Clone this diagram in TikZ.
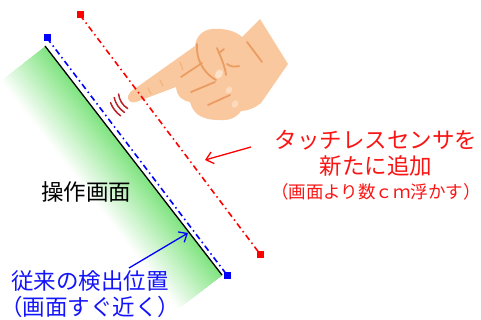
\documentclass[tikz,border=0pt]{standalone}
\usepackage{fontspec}
\newfontfamily\jp{Noto Sans CJK JP}
\usetikzlibrary{arrows.meta}
\definecolor{skin}{RGB}{250,200,158}
\definecolor{skinline}{RGB}{234,156,98}
\definecolor{skinlight}{RGB}{253,226,202}
\definecolor{panelgreen}{RGB}{128,228,128}
\definecolor{wave}{RGB}{185,35,40}
\definecolor{txtred}{RGB}{250,20,20}
\definecolor{txtblue}{RGB}{20,20,250}

\begin{document}
\begin{tikzpicture}[x=1pt,y=-1pt,
  sensorline/.style={line width=1.6pt, dash pattern=on 6pt off 3.5pt on 1.5pt off 3.5pt},
  endmark/.style={minimum size=7pt, inner sep=0pt, outer sep=0pt, fill},
  callout/.style={line width=1.3pt, -{Straight Barb[length=7pt,width=12pt,line width=1.3pt]}},
  handline/.style={skinline, line width=1.8pt, line cap=round},
  bigjp/.style={font=\jp\fontsize{22.5}{26}\selectfont, inner sep=0pt, align=center},
  smalljp/.style={font=\jp\fontsize{17.5}{20}\selectfont, inner sep=0pt, align=center}]
\useasboundingbox (0,0) rectangle (481,320);

% screen surface: green band fading away from the panel edge
\def\bandw{56}
\foreach \i in {30,29,...,1}{
  \pgfmathsetmacro\off{\bandw*\i/30}
  \pgfmathsetmacro\mix{100*(1-(\i-0.5)/30)}
  \fill[panelgreen!\mix!white] (45,47) -- (222,275)
    -- ({222-0.790*\off},{275+0.613*\off})
    -- ({45-0.790*\off},{47+0.613*\off}) -- cycle;
}

% panel edge
\coordinate (sTop) at (45,46);
\coordinate (sBot) at (222,275);
\draw[line width=1.3pt] (sTop) -- (sBot);

% conventional detection plane
\node[endmark, fill=blue] (bTop) at (47,38) {};
\node[endmark, fill=blue] (bBot) at (227,275) {};
\draw[sensorline, blue] (bTop.center) -- (bBot.center);

% hand
\fill[skin] (133,90)
  -- (195,46)
  .. controls (196,37) and (202,30) .. (212,29)
  .. controls (224,28) and (236,31) .. (242,37)
  -- (260,19)
  -- (288,64)
  -- (261,103)
  .. controls (255,108) and (247,111) .. (241,111)
  .. controls (236,119) and (226,121) .. (218,120)
  .. controls (210,120) and (201,118) .. (196,113)
  .. controls (193,110) and (191,106) .. (190,102)
  .. controls (183,101) and (177,97) .. (176,87)
  -- (136,102)
  .. controls (131,104) and (127,100) .. (128,96)
  .. controls (129,93) and (131,91) .. (133,90) -- cycle;
\fill[skinlight, rotate around={-35:(219,74)}] (219,74) ellipse [x radius=3.5, y radius=5];
\fill[skinlight!70!skin, rotate around={-30:(229,90)}] (229,90) ellipse [x radius=3, y radius=4];
\fill[skinlight!70!skin, rotate around={-30:(235,104)}] (235,104) ellipse [x radius=3, y radius=4];
\draw[handline] (181,77) -- (202,63);
\draw[handline] (191,92) -- (215,82);
\draw[handline] (208,105) -- (230,95);
\draw[handline] (197,44) .. controls (196,58) and (202,72) .. (216,80);
\draw[handline] (217,48) .. controls (221,58) and (225,66) .. (226,75);
\draw[handline] (219,53) -- (224,49);
\draw[handline] (227,64) .. controls (231,67) and (235,67) .. (239,66);
\draw[handline] (247,42) -- (262,62);
\draw[skinline!45!skin, line width=1.2pt, line cap=round] (148,88) -- (151,94);
\draw[skinline!45!skin, line width=1.2pt, line cap=round] (160,80) -- (163,86);
\draw[skinline!45!skin, line width=1.2pt, line cap=round] (180,62) -- (183,70);

% proximity waves at the fingertip
\coordinate (tip) at (138,92);
\foreach \r/\a/\b in {19.5/186/238, 24.5/193/236, 29.5/201/234}{
  \draw[wave, line width=1.5pt, line cap=round] (tip) ++(\a:\r pt) arc[start angle=\a, end angle=\b, radius=\r pt];
}

% added touchless sensing plane
\node[endmark, fill=red] (rTop) at (80,15) {};
\node[endmark, fill=red] (rBot) at (260,254) {};
\draw[sensorline, red] (rTop.center) -- (rBot.center);

% labels
\node[bigjp] (opLabel) at (86,192) {操作画面};
\node[bigjp, text=txtblue] (oldLabel) at (90,294.5) {従来の検出位置\\（画面すぐ近く）};
\node[bigjp, text=txtred] (newLabel) at (376,153) {タッチレスセンサを\\新たに追加};
\node[smalljp, text=txtred] (newSub) at (376,192) {（画面より数ｃｍ浮かす）};

% callout arrows
\coordinate (redTail) at (251,147);
\coordinate (redHead) at (205,160);
\draw[callout, red] (redTail) -- (redHead);
\coordinate (blueTail) at (129,268);
\coordinate (blueHead) at (188,233);
\draw[callout, blue] (blueTail) -- (blueHead);
\end{tikzpicture}
\end{document}
